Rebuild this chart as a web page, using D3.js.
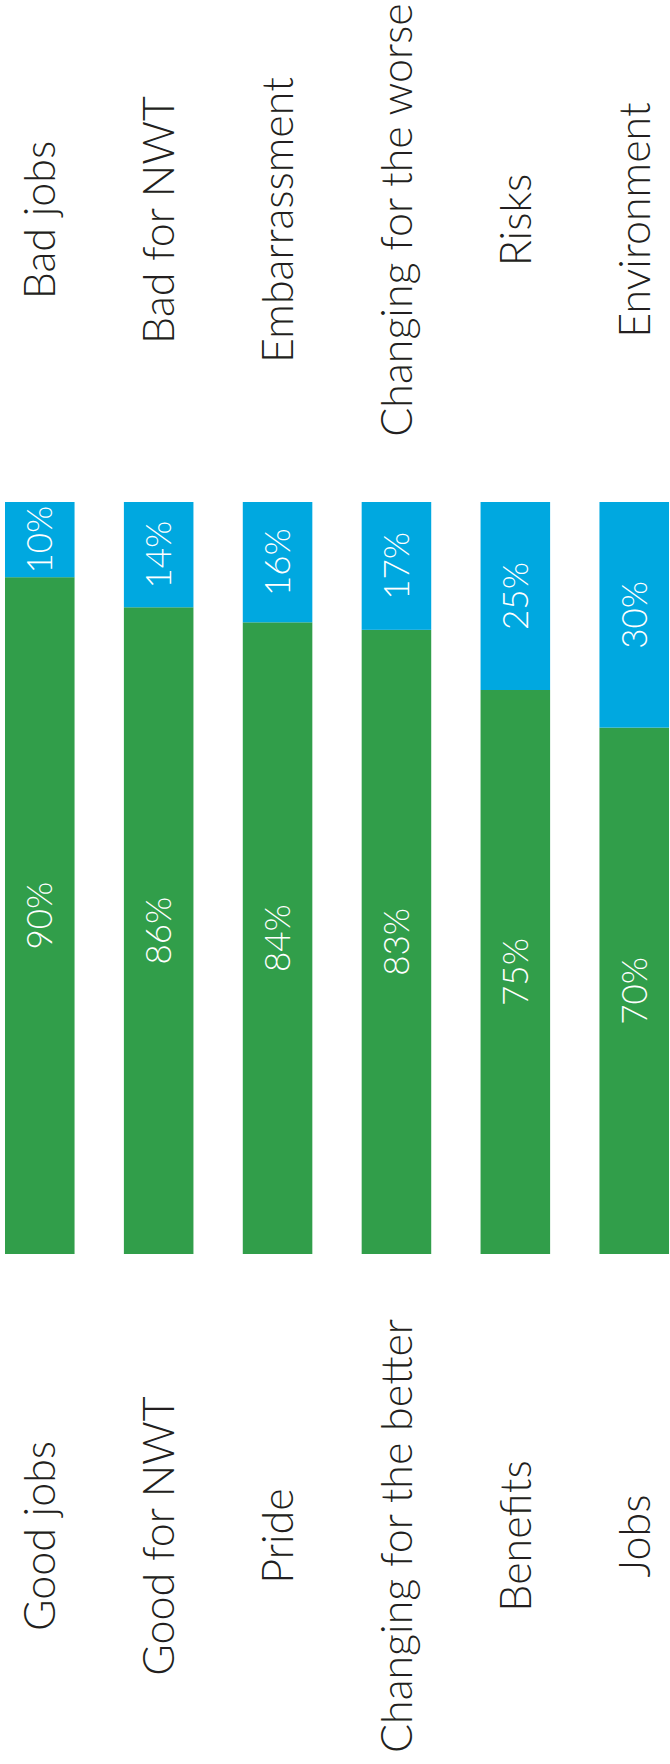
<!DOCTYPE html>
<html>
<head>
<meta charset="utf-8">
<script src="https://cdn.jsdelivr.net/npm/d3@7"></script>
<style>
  html, body { margin: 0; padding: 0; background: #fff; }
  svg text { font-family: Lato, "Open Sans", sans-serif; font-weight: 300; }
</style>
</head>
<body>
<div id="chart"></div>
<script>
var goodLabels = ['Good jobs', 'Good for NWT', 'Pride', 'Changing for the better', 'Benefits', 'Jobs'];
var badLabels = ['Bad jobs', 'Bad for NWT', 'Embarrassment', 'Changing for the worse', 'Risks', 'Environment'];
var goodValues = [90, 86, 84, 83, 75, 70];
var badValues = [10, 14, 16, 17, 25, 30];

var width = 670, height = 1764;
var green = '#319e4a', blue = '#00a8e0';

var rows = goodLabels.map(function(d, i) {
  return { good: d, bad: badLabels[i], gv: goodValues[i], bv: badValues[i] };
});

var svg = d3.select('#chart').append('svg')
  .attr('width', width)
  .attr('height', height);

var x = d3.scaleBand()
  .domain(d3.range(rows.length))
  .range([5, 669])
  .paddingInner(0.415)
  .paddingOuter(0);

var y = d3.scaleLinear().domain([0, 100]).range([1254, 502]);

var bar = svg.selectAll('g.bar')
  .data(rows)
  .enter().append('g')
  .attr('class', 'bar')
  .attr('transform', function(d, i) { return 'translate(' + x(i) + ',0)'; });

// green part (bottom)
bar.append('rect')
  .attr('width', x.bandwidth())
  .attr('y', function(d) { return y(d.gv); })
  .attr('height', function(d) { return y(0) - y(d.gv); })
  .attr('fill', green);

// blue part (top)
bar.append('rect')
  .attr('width', x.bandwidth())
  .attr('y', function(d) { return y(d.gv + d.bv); })
  .attr('height', function(d) { return y(d.gv) - y(d.gv + d.bv); })
  .attr('fill', blue);

function vtext(sel, cx, cy, size, fill, txt) {
  sel.append('text')
    .attr('transform', 'translate(' + cx + ',' + cy + ') rotate(-90)')
    .attr('text-anchor', 'middle')
    .attr('dy', '0.36em')
    .attr('font-size', size)
    .attr('fill', fill)
    .text(txt);
}

var cx = x.bandwidth() / 2;
bar.each(function(d) {
  var g = d3.select(this);
  vtext(g, cx, (y(0) + y(d.gv)) / 2, 35, '#fff', d.gv + '%');
  vtext(g, cx, (y(d.gv) + y(d.gv + d.bv)) / 2, 35, '#fff', d.bv + '%');
  vtext(g, cx, y(100) - 282, 43, '#231f20', d.bad);
  vtext(g, cx, y(0) + 282, 43, '#231f20', d.good);
});
</script>
</body>
</html>
